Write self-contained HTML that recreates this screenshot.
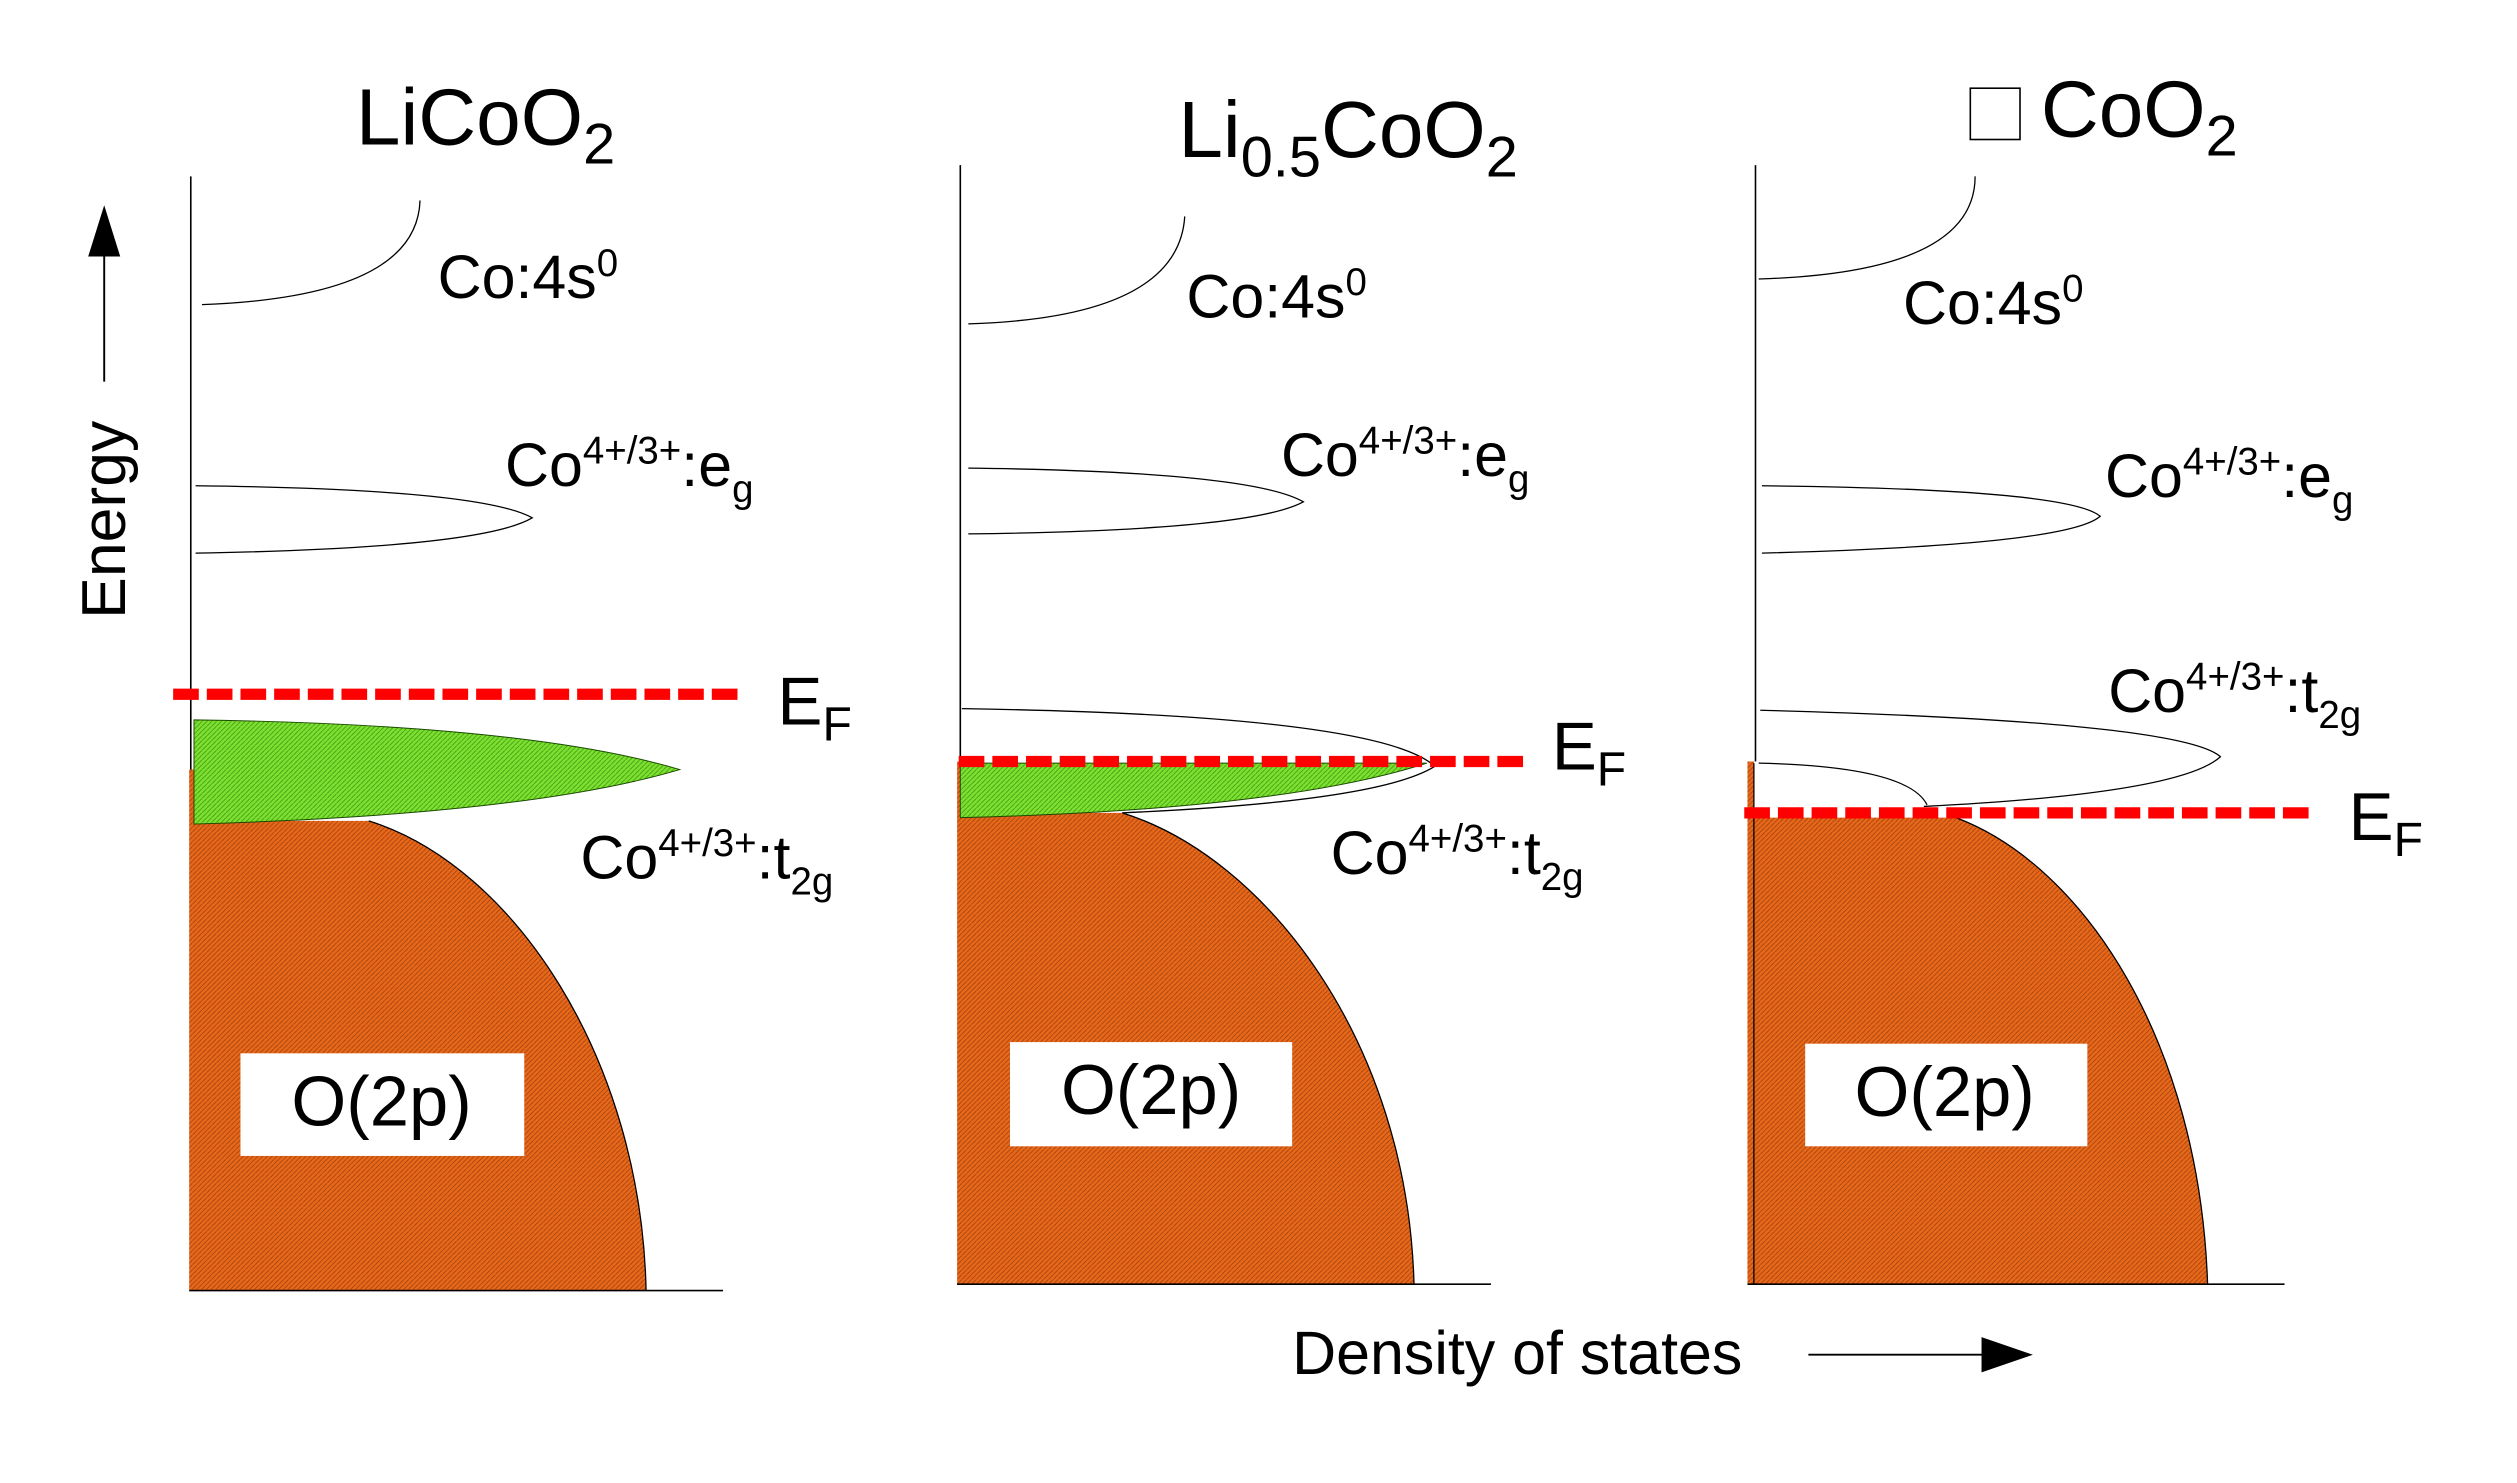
<!DOCTYPE html>
<html><head><style>html,body{margin:0;padding:0;background:#fff}svg{display:block}</style></head>
<body>
<svg width="2517" height="1483" viewBox="0 0 1570 925" xmlns="http://www.w3.org/2000/svg" font-family="Liberation Sans, sans-serif">
<defs>
<pattern id="or" width="3" height="3" patternUnits="userSpaceOnUse"><rect width="3" height="3" fill="#e8681a"/><path d="M0 3L3 0" stroke="#a04010" stroke-width="0.5"/></pattern>
<pattern id="gr" width="3" height="3" patternUnits="userSpaceOnUse"><rect width="3" height="3" fill="#7ee030"/><path d="M0 3L3 0" stroke="#3c9a10" stroke-width="0.5"/></pattern>
</defs>
<!-- Energy axis -->
<line x1="65" y1="155" x2="65" y2="238" stroke="#000" stroke-width="1.2"/>
<polygon points="55,160 75,160 65,128" fill="#000"/>
<text x="0" y="0" font-size="39" transform="translate(78,386) rotate(-90)">Energy</text>
<!-- DOS axis -->
<text x="806" y="857" font-size="38">Density of states</text>
<line x1="1128" y1="845" x2="1240" y2="845" stroke="#000" stroke-width="1.2"/>
<polygon points="1236,834 1236,856 1268,845" fill="#000"/>

<!-- Panel 1 -->
<text x="222" y="90" font-size="50">LiCoO<tspan font-size="36" dy="12">2</tspan></text>
<line x1="119" y1="110" x2="119" y2="805" stroke="#000" stroke-width="1"/>
<path d="M118 480 L122 480 L122 512 L230 512 C320 540 400 660 403 805 L118 805 Z" fill="url(#or)"/>
<path d="M230 512 C320 540 400 660 403 805" fill="none" stroke="#000" stroke-width="0.8"/>
<line x1="118" y1="805" x2="451" y2="805" stroke="#000" stroke-width="1"/>
<path d="M121 449 Q330 452 424 480 Q330 508 121 514 Z" fill="url(#gr)" stroke="#1a4a00" stroke-width="0.6"/>
<line x1="108" y1="433" x2="463" y2="433" stroke="#f00" stroke-width="7" stroke-dasharray="16,5"/>
<text x="485" y="452" font-size="42">E<tspan font-size="30" dy="10">F</tspan></text>
<text x="362" y="548" font-size="38">Co<tspan font-size="24" dy="-14">4+/3+</tspan><tspan dy="14">:t</tspan><tspan font-size="24" dy="10">2g</tspan></text>
<path d="M122 303 Q300 305 332 323 Q300 342 122 345" fill="none" stroke="#000" stroke-width="0.8"/>
<text x="315" y="303" font-size="38">Co<tspan font-size="24" dy="-14">4+/3+</tspan><tspan dy="14">:e</tspan><tspan font-size="24" dy="10">g</tspan></text>
<path d="M262 125 Q260 185 126 190" fill="none" stroke="#000" stroke-width="0.8"/>
<text x="273" y="186" font-size="38">Co:4s<tspan font-size="24" dy="-14">0</tspan></text>
<rect x="150" y="657" width="177" height="64" fill="#fff"/>
<text x="238" y="702" font-size="44" text-anchor="middle">O(2p)</text>

<!-- Panel 2 -->
<text x="735" y="98" font-size="50">Li<tspan font-size="36" dy="12">0.5</tspan><tspan dy="-12">CoO</tspan><tspan font-size="36" dy="12">2</tspan></text>
<line x1="599" y1="103" x2="599" y2="800" stroke="#000" stroke-width="1"/>
<path d="M597 475 L600 475 L600 507 L700 507 C790 535 878 650 882 801 L597 801 Z" fill="url(#or)"/>
<path d="M700 507 C790 535 878 650 882 801" fill="none" stroke="#000" stroke-width="0.8"/>
<line x1="597" y1="801" x2="930" y2="801" stroke="#000" stroke-width="1"/>
<path d="M599 476 L890 476 Q800 505 599 510 Z" fill="url(#gr)" stroke="#1a4a00" stroke-width="0.6"/>
<path d="M600 442 Q860 446 895 478 Q860 500 700 507" fill="none" stroke="#000" stroke-width="0.8"/>
<line x1="598" y1="475" x2="953" y2="475" stroke="#f00" stroke-width="7" stroke-dasharray="16,5"/>
<text x="968" y="480" font-size="42">E<tspan font-size="30" dy="10">F</tspan></text>
<text x="830" y="545" font-size="38">Co<tspan font-size="24" dy="-14">4+/3+</tspan><tspan dy="14">:t</tspan><tspan font-size="24" dy="10">2g</tspan></text>
<path d="M604 292 Q780 294 813 313 Q780 331 604 333" fill="none" stroke="#000" stroke-width="0.8"/>
<text x="799" y="297" font-size="38">Co<tspan font-size="24" dy="-14">4+/3+</tspan><tspan dy="14">:e</tspan><tspan font-size="24" dy="10">g</tspan></text>
<path d="M739 135 Q735 198 604 202" fill="none" stroke="#000" stroke-width="0.8"/>
<text x="740" y="198" font-size="38">Co:4s<tspan font-size="24" dy="-14">0</tspan></text>
<rect x="630" y="650" width="176" height="65" fill="#fff"/>
<text x="718" y="695" font-size="44" text-anchor="middle">O(2p)</text>

<!-- Panel 3 -->
<rect x="1229" y="55" width="31" height="32" fill="#fff" stroke="#000" stroke-width="1"/>
<text x="1273" y="85" font-size="50">CoO<tspan font-size="36" dy="12">2</tspan></text>
<line x1="1095" y1="103" x2="1095" y2="475" stroke="#000" stroke-width="1"/>
<path d="M1090 475 L1094 475 L1094 510 L1220 510 C1300 540 1372 650 1377 801 L1090 801 Z" fill="url(#or)"/>
<path d="M1220 510 C1300 540 1372 650 1377 801" fill="none" stroke="#000" stroke-width="0.8"/>
<line x1="1094" y1="476" x2="1094" y2="801" stroke="#000" stroke-width="0.8"/>
<line x1="1090" y1="801" x2="1425" y2="801" stroke="#000" stroke-width="1"/>
<path d="M1098 443 Q1360 450 1385 472 Q1360 495 1200 503" fill="none" stroke="#000" stroke-width="0.8"/>
<path d="M1097 476 Q1190 478 1202 502" fill="none" stroke="#000" stroke-width="0.8"/>
<line x1="1088" y1="507" x2="1443" y2="507" stroke="#f00" stroke-width="7" stroke-dasharray="16,5"/>
<text x="1465" y="524" font-size="42">E<tspan font-size="30" dy="10">F</tspan></text>
<text x="1315" y="444" font-size="38">Co<tspan font-size="24" dy="-14">4+/3+</tspan><tspan dy="14">:t</tspan><tspan font-size="24" dy="10">2g</tspan></text>
<path d="M1099 303 Q1290 305 1310 322 Q1290 340 1099 345" fill="none" stroke="#000" stroke-width="0.8"/>
<text x="1313" y="310" font-size="38">Co<tspan font-size="24" dy="-14">4+/3+</tspan><tspan dy="14">:e</tspan><tspan font-size="24" dy="10">g</tspan></text>
<path d="M1232 110 Q1232 170 1097 174" fill="none" stroke="#000" stroke-width="0.8"/>
<text x="1187" y="202" font-size="38">Co:4s<tspan font-size="24" dy="-14">0</tspan></text>
<rect x="1126" y="651" width="176" height="64" fill="#fff"/>
<text x="1213" y="696" font-size="44" text-anchor="middle">O(2p)</text>
</svg>
</body></html>
